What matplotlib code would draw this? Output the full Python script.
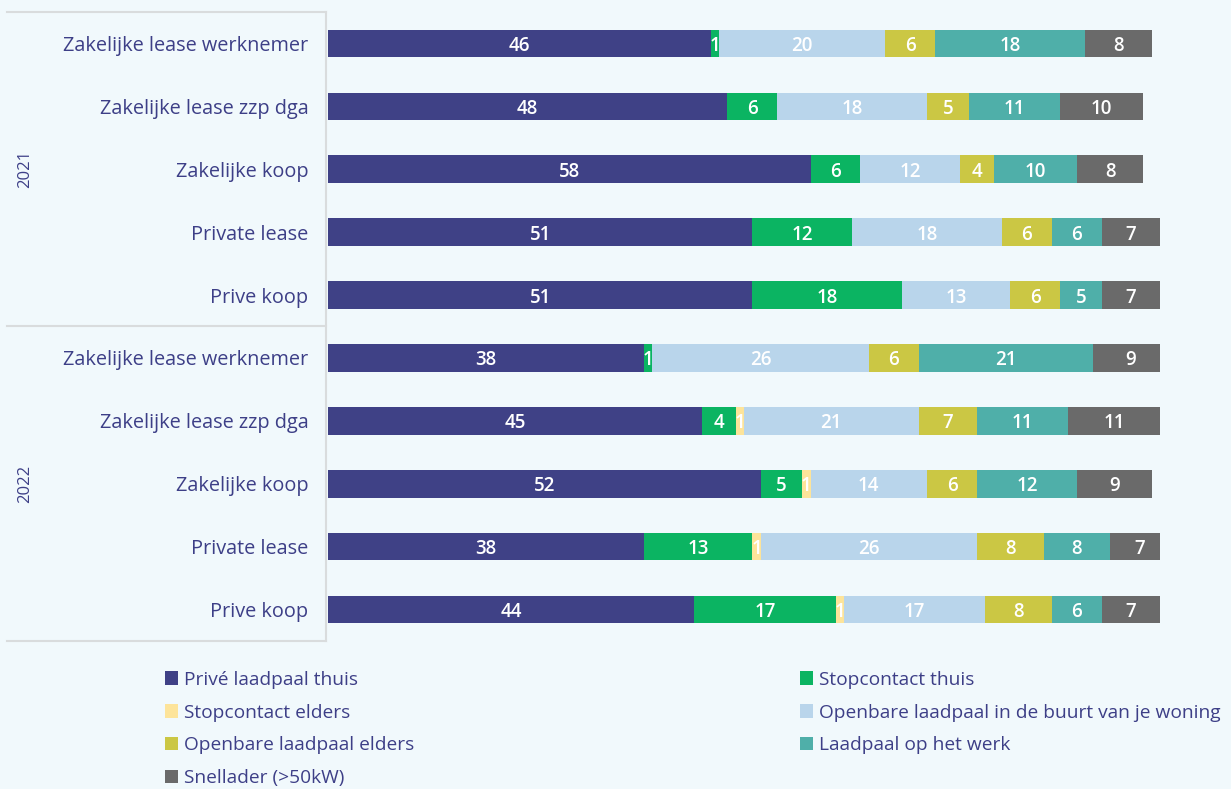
import numpy as np
import matplotlib.pyplot as plt
from matplotlib.patches import Patch
from matplotlib.transforms import blended_transform_factory

plt.rcParams['font.family'] = ['Open Sans', 'DejaVu Sans']

# rows, top to bottom
years = ['2021', '2022']
groups = ['Zakelijke lease werknemer', 'Zakelijke lease zzp dga', 'Zakelijke koop',
          'Private lease', 'Prive koop']

series = ['Privé laadpaal thuis', 'Stopcontact thuis', 'Stopcontact elders',
          'Openbare laadpaal in de buurt van je woning', 'Openbare laadpaal elders',
          'Laadpaal op het werk', 'Snellader (>50kW)']
colors = ['#3f4186', '#0bb462', '#fde49a', '#b9d5eb', '#cbc744', '#4fafa9', '#6a6a6a']

prive_laadpaal = [46, 48, 58, 51, 51, 38, 45, 52, 38, 44]
stopcontact_thuis = [1, 6, 6, 12, 18, 1, 4, 5, 13, 17]
stopcontact_elders = [0, 0, 0, 0, 0, 0, 1, 1, 1, 1]
openbaar_buurt = [20, 18, 12, 18, 13, 26, 21, 14, 26, 17]
openbaar_elders = [6, 5, 4, 6, 6, 6, 7, 6, 8, 8]
werk = [18, 11, 10, 6, 5, 21, 11, 12, 8, 6]
snellader = [8, 10, 8, 7, 7, 9, 11, 9, 7, 7]

values = np.array([prive_laadpaal, stopcontact_thuis, stopcontact_elders, openbaar_buurt,
                   openbaar_elders, werk, snellader], dtype=float)

bg = '#f1f9fc'
navy = '#3d3f87'
line_col = '#d9dcdd'

fig = plt.figure(figsize=(12.31, 7.89), dpi=100, facecolor=bg)
W, H = 1231, 789
ax = fig.add_axes([328 / W, 1 - 641 / H, 832 / W, 629 / H])
ax.set_facecolor(bg)

labels = groups + groups
y = np.arange(len(labels))
left = np.zeros(len(labels))
for vals, col in zip(values, colors):
    ax.barh(y, vals, left=left, height=0.44, color=col, edgecolor='none')
    for yi, (l, v) in enumerate(zip(left, vals)):
        if v > 0:
            ax.text(l + v / 2, yi + 0.04, f'{int(v)}', ha='center', va='center',
                    color='white', fontsize=13.5, fontweight='semibold')
    left += vals

ax.set_xlim(0, 100)
ax.set_ylim(len(labels) - 0.5, -0.5)
ax.set_yticks(y)
ax.set_yticklabels(labels, fontsize=14.3, color=navy)
ax.tick_params(axis='y', length=0, pad=14)
ax.set_xticks([])
for s in ax.spines.values():
    s.set_visible(False)

# group separators and year labels
tr = blended_transform_factory(ax.transAxes, ax.transData)
x0 = -321 / 832
xv = -2 / 832
for yl in [-0.5, 4.5, 9.5]:
    ax.plot([x0, xv], [yl, yl], color=line_col, lw=1.5, transform=tr, clip_on=False)
ax.plot([xv, xv], [-0.5, 9.5], color=line_col, lw=1.5, transform=tr, clip_on=False)
for i, yr in enumerate(years):
    ax.text(x0 + 18 / 832, 2 + 5 * i, yr, rotation=90, ha='center', va='center',
            color=navy, fontsize=12, transform=tr)

# legend in two columns
handles = [Patch(facecolor=c, edgecolor='none') for c in colors]
col1 = [0, 2, 4, 6]
col2 = [1, 3, 5]
for idx, xpos in [(col1, 155 / W), (col2, 790 / W)]:
    fig.legend([handles[i] for i in idx], [series[i] for i in idx],
               loc='upper left', bbox_to_anchor=(xpos, 1 - 661 / H), frameon=False,
               fontsize=13.8, labelcolor=navy, handlelength=0.7, handleheight=0.7,
               handletextpad=0.3, labelspacing=0.78, borderpad=0)

fig.savefig('out.png', dpi=100, facecolor=bg)
